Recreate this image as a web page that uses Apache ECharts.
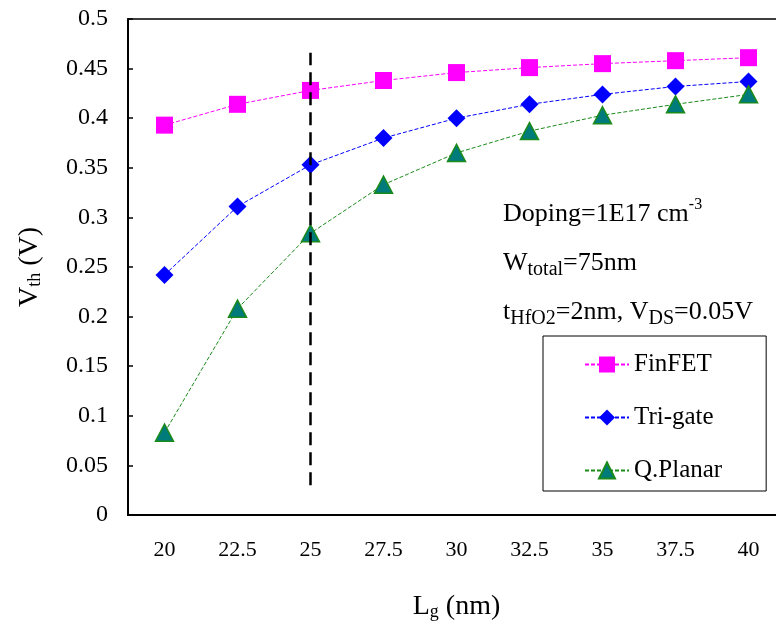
<!DOCTYPE html>
<html>
<head>
<meta charset="utf-8">
<script src="https://cdn.jsdelivr.net/npm/echarts@6/dist/echarts.min.js"></script>
<style>
	html, body { margin: 0; padding: 0; background: #fff; }
	#main { width: 776px; height: 626px; }
</style>
</head>
<body>
<div id="main"></div>
<script>
'use strict';
var lengths = ['20', '22.5', '25', '27.5', '30', '32.5', '35', '37.5', '40'];
var finfet = [0.393, 0.414, 0.428, 0.438, 0.446, 0.451, 0.455, 0.458, 0.461];
var trigate = [0.242, 0.311, 0.353, 0.380, 0.400, 0.414, 0.424, 0.432, 0.437];
var qplanar = [0.083, 0.208, 0.284, 0.333, 0.365, 0.387, 0.403, 0.414, 0.424];
var markerLg = '25';
var markerSpan = [0.030, 0.466];

var serif = '"Liberation Serif", "Times New Roman", serif';
var myChart = echarts.init(document.getElementById('main'));

var option = {
	backgroundColor: '#fff',
	animation: false,
	grid: {
		left: 128,
		top: 19,
		width: 657,
		bottom: 111,
		outerBoundsMode: 'none',
		containLabel: false,
		show: true,
		borderColor: '#000',
		borderWidth: 1.5,
		backgroundColor: 'rgba(0,0,0,0)'
	},
	legend: {
		orient: 'vertical',
		left: 543,
		top: 336,
		padding: [16, 44, 8, 41],
		itemWidth: 44,
		itemHeight: 20,
		itemGap: 28,
		borderColor: '#000',
		borderWidth: 1,
		backgroundColor: '#fff',
		textStyle: {
			fontFamily: serif,
			fontSize: 25,
			color: '#000',
			padding: [0, 0, 0, 0]
		},
		data: ['FinFET', 'Tri-gate', 'Q.Planar']
	},
	xAxis: {
		type: 'category',
		data: lengths,
		boundaryGap: true,
		name: '{m|L}{s|g}{m| (nm)}',
		nameLocation: 'middle',
		nameGap: 72,
		nameTextStyle: {
			rich: {
				m: { fontFamily: serif, fontSize: 28, color: '#000', verticalAlign: 'bottom', lineHeight: 34 },
				s: { fontFamily: serif, fontSize: 18, color: '#000', verticalAlign: 'bottom', lineHeight: 24 }
			}
		},
		axisLine: { lineStyle: { color: '#000', width: 2 } },
		axisTick: { alignWithLabel: true, inside: true, length: 5, lineStyle: { color: '#000', width: 1.5 } },
		axisLabel: { fontFamily: serif, fontSize: 22, color: '#000', margin: 24 },
		splitLine: { show: false }
	},
	yAxis: {
		type: 'value',
		min: 0,
		max: 0.5,
		interval: 0.05,
		name: '{m|V}{s|th}{m| (V)}',
		nameLocation: 'middle',
		nameGap: 84,
		nameRotate: 90,
		nameTextStyle: {
			rich: {
				m: { fontFamily: serif, fontSize: 28, color: '#000', verticalAlign: 'bottom', lineHeight: 34 },
				s: { fontFamily: serif, fontSize: 18, color: '#000', verticalAlign: 'bottom', lineHeight: 24 }
			}
		},
		axisLine: { show: true, lineStyle: { color: '#000', width: 2 } },
		axisTick: { show: true, inside: true, length: 5, lineStyle: { color: '#000', width: 1.5 } },
		axisLabel: { fontFamily: serif, fontSize: 24, color: '#000', margin: 20 },
		splitLine: { show: false }
	},
	graphic: [{
		type: 'text',
		left: 503,
		top: 197,
		style: {
			text: '{m|Doping=1E17 cm}{p|-3}\n{m|W}{b|total}{m|=75nm}\n{m|t}{b|HfO2}{m|=2nm, V}{b|DS}{m|=0.05V}',
			rich: {
				m: { fontFamily: serif, fontSize: 26, fill: '#000', lineHeight: 49, verticalAlign: 'middle' },
				p: { fontFamily: serif, fontSize: 16, fill: '#000', lineHeight: 49, verticalAlign: 'middle', padding: [0, 0, 18, 0] },
				b: { fontFamily: serif, fontSize: 20, fill: '#000', lineHeight: 49, verticalAlign: 'middle', padding: [14, 0, 0, 0] }
			}
		}
	}],
	series: [{
		name: 'FinFET',
		type: 'line',
		data: finfet,
		symbol: 'rect',
		symbolSize: 17,
		itemStyle: { color: '#ff00ff' },
		lineStyle: { color: '#ff00ff', width: 1, type: [4, 2] },
		z: 3
	}, {
		name: 'Tri-gate',
		type: 'line',
		data: trigate,
		symbol: 'diamond',
		symbolSize: [18, 18],
		itemStyle: { color: '#0000ff' },
		lineStyle: { color: '#0000ff', width: 1, type: [4, 2] },
		z: 3
	}, {
		name: 'Q.Planar',
		type: 'line',
		data: qplanar,
		symbol: 'triangle',
		symbolSize: [18, 17],
		itemStyle: { color: '#007b7b', borderColor: '#1a8a1a', borderWidth: 1.5 },
		lineStyle: { color: '#1a8a1a', width: 1, type: [4, 2] },
		z: 3,
		markLine: {
			silent: true,
			symbol: ['none', 'none'],
			label: { show: false },
			lineStyle: { color: '#000', width: 2.5, type: [13, 7] },
			data: [[
				{ coord: [markerLg, markerSpan[0]] },
				{ coord: [markerLg, markerSpan[1]] }
			]]
		}
	}]
};
myChart.setOption(option);
</script>
</body>
</html>
